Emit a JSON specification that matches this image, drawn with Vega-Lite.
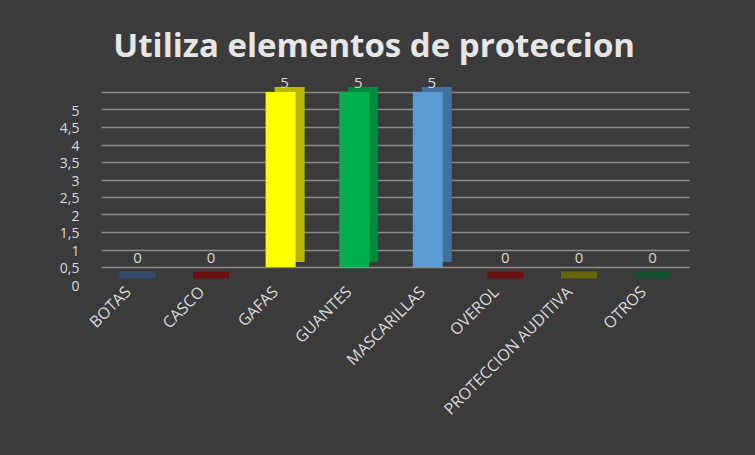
{
  "$schema": "https://vega.github.io/schema/vega-lite/v6.json",
  "width": 588,
  "height": 175,
  "autosize": {"type": "none"},
  "padding": {"left": 101, "top": 92, "right": 66, "bottom": 188},
  "background": "#3b3b3b",
  "config": {"view": {"stroke": null}, "font": "Open Sans"},
  "title": {
    "text": "Utiliza elementos de proteccion",
    "font": "Open Sans",
    "fontSize": 33,
    "fontWeight": "bold",
    "color": "#e6e6e6",
    "anchor": "middle",
    "offset": 12,
    "frame": "bounds"
  },
  "data": {
    "values": [
      {"elemento": "BOTAS", "valor": 0},
      {"elemento": "CASCO", "valor": 0},
      {"elemento": "GAFAS", "valor": 5},
      {"elemento": "GUANTES", "valor": 5},
      {"elemento": "MASCARILLAS", "valor": 5},
      {"elemento": "OVEROL", "valor": 0},
      {"elemento": "PROTECCION AUDITIVA", "valor": 0},
      {"elemento": "OTROS", "valor": 0}
    ]
  },
  "encoding": {
    "x": {
      "field": "elemento",
      "type": "nominal",
      "sort": null,
      "title": null,
      "scale": {
        "domain": ["BOTAS", "CASCO", "GAFAS", "GUANTES", "MASCARILLAS", "OVEROL", "PROTECCION AUDITIVA", "OTROS"],
        "paddingInner": 0.55,
        "paddingOuter": 0.27
      },
      "axis": {
        "labelAngle": -45,
        "labelAlign": "right",
        "labelBaseline": "middle",
        "labelColor": "#d9d9d9",
        "labelFont": "Open Sans",
        "labelFontSize": 16,
        "labelPadding": 22,
        "labelOffset": -9,
        "ticks": false,
        "domain": false,
        "grid": false
      }
    },
    "y": {
      "field": "valor",
      "type": "quantitative",
      "title": null,
      "scale": {"domain": [0, 5]},
      "axis": {
        "values": [0, 0.5, 1, 1.5, 2, 2.5, 3, 3.5, 4, 4.5, 5],
        "labelExpr": "replace(format(datum.value, '~g'), '.', ',')",
        "labelColor": "#d9d9d9",
        "labelFont": "Open Sans",
        "labelFontSize": 14,
        "labelPadding": 22,
        "labelOffset": 19,
        "ticks": false,
        "domain": false,
        "grid": true,
        "gridColor": "#8c8c8c",
        "gridWidth": 1.5
      }
    }
  },
  "layer": [
    {
      "transform": [{"filter": "datum.valor == 0"}],
      "mark": {"type": "tick", "thickness": 7, "size": 36, "yOffset": 8, "orient": "horizontal"},
      "encoding": {
        "color": {
          "field": "elemento",
          "type": "nominal",
          "legend": null,
          "scale": {
            "domain": ["BOTAS", "CASCO", "GAFAS", "GUANTES", "MASCARILLAS", "OVEROL", "PROTECCION AUDITIVA", "OTROS"],
            "range": ["#34507a", "#7a0000", "#d4d400", "#00a049", "#4f8bc4", "#7a0000", "#7a7a00", "#005a2a"]
          }
        }
      }
    },
    {
      "mark": {"type": "bar", "size": 30, "xOffset": 5, "yOffset": -5},
      "encoding": {
        "color": {
          "field": "elemento",
          "type": "nominal",
          "legend": null,
          "scale": {
            "domain": ["BOTAS", "CASCO", "GAFAS", "GUANTES", "MASCARILLAS", "OVEROL", "PROTECCION AUDITIVA", "OTROS"],
            "range": ["#34507a", "#7a0000", "#b8b800", "#008a3e", "#41719c", "#7a0000", "#7a7a00", "#005a2a"]
          }
        }
      }
    },
    {
      "mark": {"type": "bar", "size": 30, "xOffset": -4},
      "encoding": {
        "color": {
          "field": "elemento",
          "type": "nominal",
          "legend": null,
          "scale": {
            "domain": ["BOTAS", "CASCO", "GAFAS", "GUANTES", "MASCARILLAS", "OVEROL", "PROTECCION AUDITIVA", "OTROS"],
            "range": ["#3c5f8f", "#8b0000", "#ffff00", "#00b050", "#5b9bd5", "#8b0000", "#8b8b00", "#006b32"]
          }
        }
      }
    },
    {
      "mark": {"type": "text", "baseline": "bottom", "dy": -1, "fontSize": 15, "font": "Open Sans", "color": "#d9d9d9"},
      "encoding": {"text": {"field": "valor", "type": "quantitative"}}
    }
  ],
  "resolve": {"scale": {"color": "independent"}}
}
